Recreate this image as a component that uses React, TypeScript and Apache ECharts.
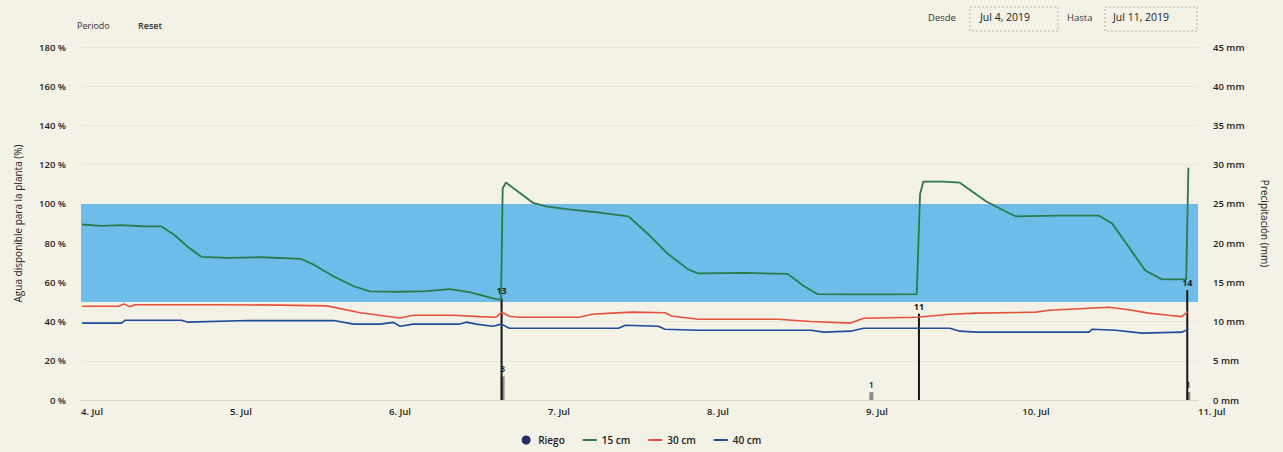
import React, { useEffect, useRef } from "react";
import * as echarts from "echarts";

const FONT = "Open Sans";
const YEAR = "2019-";

const leftTicks = [0, 180, 20];
const rightTicks = [0, 45, 5];
const firstDay = 4;

const greenPoints: [string, number][] = [
  ["07-04 00:00", 89.5], ["07-04 03:00", 88.8], ["07-04 06:00", 89.2], ["07-04 09:00", 88.6],
  ["07-04 12:00", 88.5], ["07-04 14:00", 84], ["07-04 16:00", 78], ["07-04 18:00", 73],
  ["07-04 22:00", 72.5], ["07-05 03:00", 72.8], ["07-05 09:00", 72], ["07-05 11:00", 69],
  ["07-05 14:00", 63], ["07-05 17:00", 58], ["07-05 19:30", 55.4], ["07-06 00:00", 55.2],
  ["07-06 04:00", 55.5], ["07-06 07:30", 56.5], ["07-06 10:30", 55], ["07-06 14:30", 51.4],
  ["07-06 15:15", 51.2], ["07-06 15:30", 108], ["07-06 16:00", 110.9], ["07-06 20:00", 100.7],
  ["07-06 22:00", 98.7], ["07-07 01:30", 97.2], ["07-07 06:00", 95.6], ["07-07 10:30", 93.6],
  ["07-07 13:30", 84.4], ["07-07 16:30", 74.3], ["07-07 19:30", 66.6], ["07-07 21:00", 64.6],
  ["07-08 04:00", 64.8], ["07-08 10:30", 64.3], ["07-08 13:00", 58], ["07-08 15:00", 54],
  ["07-08 20:00", 53.9], ["07-09 02:00", 53.9], ["07-09 06:00", 54], ["07-09 06:30", 105],
  ["07-09 07:00", 111.4], ["07-09 10:00", 111.4], ["07-09 12:30", 110.8], ["07-09 16:30", 101.2],
  ["07-09 19:30", 96], ["07-09 21:00", 93.6], ["07-10 03:00", 94], ["07-10 09:30", 94],
  ["07-10 11:30", 90], ["07-10 16:30", 66], ["07-10 19:00", 61.5], ["07-10 22:40", 61.5],
  ["07-10 23:00", 118.5],
];

const redPoints: [string, number][] = [
  ["07-04 00:00", 47.8], ["07-04 05:30", 47.8], ["07-04 06:20", 49], ["07-04 07:10", 47.6],
  ["07-04 08:00", 48.6], ["07-04 20:00", 48.6], ["07-05 06:00", 48.4], ["07-05 13:00", 48.0],
  ["07-05 18:00", 44.5], ["07-06 00:00", 41.8], ["07-06 02:00", 43.2], ["07-06 08:00", 43.2],
  ["07-06 12:00", 42.5], ["07-06 14:30", 42.2], ["07-06 15:20", 44.8], ["07-06 16:30", 42.7],
  ["07-06 18:00", 42.2], ["07-07 03:00", 42.2], ["07-07 05:00", 43.7], ["07-07 08:00", 44.3],
  ["07-07 11:00", 44.8], ["07-07 16:00", 44.5], ["07-07 17:00", 42.8], ["07-07 21:00", 41.2],
  ["07-08 09:00", 41.2], ["07-08 14:00", 40], ["07-08 20:00", 39.2], ["07-08 22:00", 41.7],
  ["07-09 06:00", 42.2], ["07-09 11:00", 43.7], ["07-09 15:00", 44.3], ["07-10 00:00", 44.8],
  ["07-10 02:00", 45.8], ["07-10 08:00", 46.8], ["07-10 11:00", 47.3], ["07-10 14:00", 46],
  ["07-10 17:00", 44.3], ["07-10 20:00", 43.2], ["07-10 22:00", 42.5], ["07-10 22:50", 44.8],
  ["07-10 23:00", 45.2],
];

const bluePoints: [string, number][] = [
  ["07-04 00:00", 39.2], ["07-04 06:00", 39.2], ["07-04 06:30", 40.7], ["07-04 15:00", 40.7],
  ["07-04 16:00", 39.7], ["07-05 01:00", 40.5], ["07-05 14:00", 40.5], ["07-05 17:00", 38.7],
  ["07-05 21:00", 38.7], ["07-05 23:00", 39.6], ["07-06 00:00", 37.6], ["07-06 02:00", 38.7],
  ["07-06 09:00", 38.7], ["07-06 10:00", 39.7], ["07-06 11:30", 38.7], ["07-06 14:00", 37.6],
  ["07-06 15:20", 38.7], ["07-06 16:30", 36.6], ["07-07 09:00", 36.6], ["07-07 10:00", 38.1],
  ["07-07 15:00", 37.6], ["07-07 16:00", 36.1], ["07-07 21:00", 35.6], ["07-08 14:00", 35.6],
  ["07-08 16:00", 34.6], ["07-08 20:00", 35.1], ["07-08 22:00", 36.6], ["07-09 11:00", 36.6],
  ["07-09 12:30", 35.1], ["07-09 15:00", 34.6], ["07-10 08:00", 34.6], ["07-10 08:30", 36.1],
  ["07-10 12:00", 35.6], ["07-10 16:00", 34.1], ["07-10 22:00", 34.6], ["07-10 23:00", 36.1],
];

const riegoTimes = ["07-06 15:20", "07-09 06:20", "07-10 22:50"];
const riegoValues = [13, 11, 14];
const precipTimes = ["07-06 15:20", "07-08 23:00", "07-10 22:50"];
const precipValues = [3, 1, 1];

const bandRange = [50, 100];
const legendNames = ["Riego", "15 cm", "30 cm", "40 cm"];

const toSeries = (pts: [string, number][]) => pts.map(([t, v]) => [YEAR + t, v]);

export default function App() {
  const ref = useRef<HTMLDivElement>(null);
  useEffect(() => {
    document.body.style.margin = "0";
    document.body.style.background = "#f4f1e6";
    const chart = echarts.init(ref.current!, null, { renderer: "svg" });
    const txt = { color: "#222", fontFamily: FONT, fontSize: 9.5, fontWeight: 600 };
    const xMin = +new Date(2019, 6, 4);
    const xMax = +new Date(2019, 6, 11);
    const line = "path://M0,0h14v2h-14z";
    const option: any = {
      animation: false,
      backgroundColor: "#f4f1e6",
      grid: { left: 81, right: 85, top: 47, bottom: 52 },
      legend: {
        bottom: 2,
        left: "center",
        itemWidth: 14,
        itemHeight: 9,
        itemGap: 18,
        textStyle: { ...txt, fontSize: 10 },
        data: [
          { name: legendNames[0], icon: "circle", itemStyle: { color: "#1f2d6b" } },
          { name: legendNames[1], icon: line },
          { name: legendNames[2], icon: line },
          { name: legendNames[3], icon: line },
        ],
      },
      xAxis: {
        type: "time",
        min: xMin,
        max: xMax,
        minInterval: 86400000,
        maxInterval: 86400000,
        axisLine: { lineStyle: { color: "#d8d4c6" } },
        axisTick: { show: false },
        splitLine: { show: false },
        axisLabel: {
          ...txt,
          margin: 6,
          alignMinLabel: "left",
          alignMaxLabel: "left",
          showMinLabel: true,
          showMaxLabel: true,
          formatter: (v: number) => firstDay + Math.round((v - xMin) / 86400000) + ". Jul",
        },
      },
      yAxis: [
        {
          type: "value",
          min: leftTicks[0],
          max: leftTicks[1],
          interval: leftTicks[2],
          name: "Agua disponible para la planta (%)",
          nameLocation: "middle",
          nameGap: 58,
          nameTextStyle: { ...txt, fontSize: 10, fontWeight: 500 },
          axisLine: { show: false },
          axisTick: { show: false },
          splitLine: { lineStyle: { color: "#ebe7da", width: 1 } },
          axisLabel: { ...txt, margin: 15, formatter: "{value} %" },
        },
        {
          type: "value",
          min: rightTicks[0],
          max: rightTicks[1],
          interval: rightTicks[2],
          name: "Precipitación (mm)",
          nameLocation: "middle",
          nameRotate: -90,
          nameGap: 62,
          nameTextStyle: { ...txt, fontSize: 10, fontWeight: 500 },
          axisLine: { show: false },
          axisTick: { show: false },
          splitLine: { show: false },
          axisLabel: { ...txt, margin: 15, formatter: "{value} mm" },
        },
      ],
      series: [
        {
          name: "Precip",
          type: "bar",
          yAxisIndex: 1,
          barWidth: 4,
          barGap: "-100%",
          itemStyle: { color: "#8a8a8a" },
          label: { show: true, position: "top", distance: 3, ...txt, fontSize: 9 },
          data: precipTimes.map((t, i) => [YEAR + t, precipValues[i]]),
          z: 1,
        },
        {
          name: legendNames[0],
          type: "bar",
          yAxisIndex: 1,
          barWidth: 2,
          itemStyle: { color: "#151515" },
          label: { show: true, position: "top", distance: 3, ...txt, fontSize: 9, fontWeight: 700 },
          data: riegoTimes.map((t, i) => [YEAR + t, riegoValues[i]]),
          z: 3,
        },
        {
          name: legendNames[1],
          type: "line",
          showSymbol: false,
          lineStyle: { color: "#2c7a4b", width: 1.8 },
          itemStyle: { color: "#2c7a4b" },
          data: toSeries(greenPoints),
          z: 4,
          markArea: {
            silent: true,
            itemStyle: { color: "#6ebde8" },
            data: [[{ yAxis: bandRange[0] }, { yAxis: bandRange[1] }]],
          },
        },
        {
          name: legendNames[2],
          type: "line",
          showSymbol: false,
          lineStyle: { color: "#e4523d", width: 1.6 },
          itemStyle: { color: "#e4523d" },
          data: toSeries(redPoints),
          z: 4,
        },
        {
          name: legendNames[3],
          type: "line",
          showSymbol: false,
          lineStyle: { color: "#1f4b99", width: 1.6 },
          itemStyle: { color: "#1f4b99" },
          data: toSeries(bluePoints),
          z: 4,
        },
      ],
      graphic: [
        { type: "text", left: 77, top: 21, style: { text: "Periodo", fill: "#333", font: `500 9px ${FONT}` } },
        { type: "text", left: 138, top: 21, style: { text: "Reset", fill: "#333", font: `600 9px ${FONT}` } },
        { type: "text", left: 928, top: 12, style: { text: "Desde", fill: "#333", font: `500 9.5px ${FONT}` } },
        {
          type: "rect",
          shape: { x: 970, y: 7, width: 88, height: 24 },
          style: { fill: "none", stroke: "#b5b1a5", lineWidth: 1, lineDash: [2, 2] },
        },
        { type: "text", left: 980, top: 11, style: { text: "Jul 4, 2019", fill: "#222", font: `500 10.5px ${FONT}` } },
        { type: "text", left: 1067, top: 12, style: { text: "Hasta", fill: "#333", font: `500 9.5px ${FONT}` } },
        {
          type: "rect",
          shape: { x: 1105, y: 7, width: 92, height: 24 },
          style: { fill: "none", stroke: "#b5b1a5", lineWidth: 1, lineDash: [2, 2] },
        },
        { type: "text", left: 1113, top: 11, style: { text: "Jul 11, 2019", fill: "#222", font: `500 10.5px ${FONT}` } },
      ],
    };
    chart.setOption(option);
    return () => chart.dispose();
  }, []);
  return <div ref={ref} style={{ position: "absolute", left: 0, top: 0, width: 1283, height: 452 }} />;
}
